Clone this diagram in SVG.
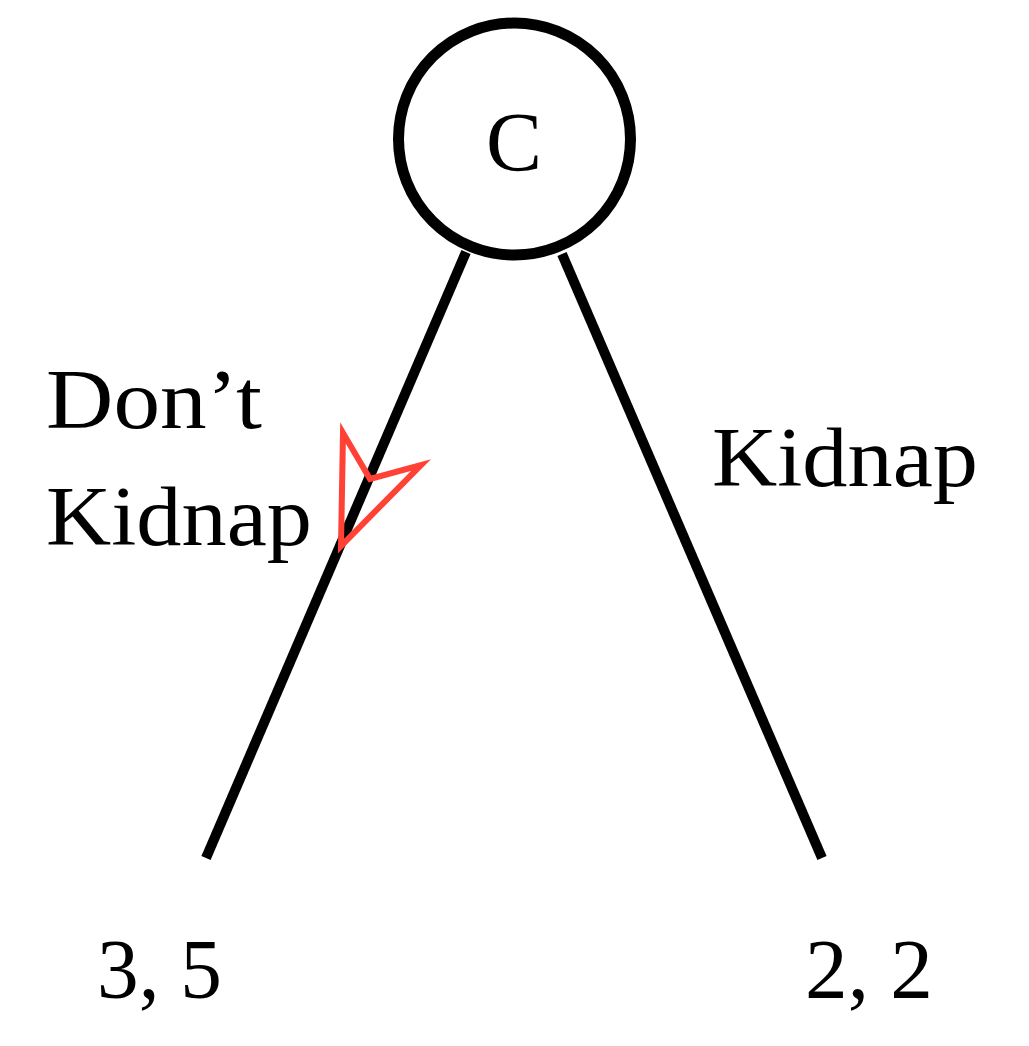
<svg xmlns="http://www.w3.org/2000/svg" width="1029" height="1046" viewBox="0 0 1029 1046">
<style>
.t{font-family:"Liberation Serif","Times New Roman",serif;font-size:84px;fill:#000}
.e{stroke:#000;stroke-width:10;fill:none}
</style>
<rect width="1029" height="1046" fill="#fff"/>
<g id="connectors">
<line class="e" x1="466" y1="252" x2="206" y2="858"/>
<line class="e" x1="562" y1="254" x2="822" y2="858"/>
<polygon points="343,433 370,479 421,465 341,546" fill="none" stroke="#ff4136" stroke-width="6" stroke-linejoin="miter"/>
</g>
<g id="node-C">
<circle cx="514.5" cy="139" r="116" fill="#fff" stroke="#000" stroke-width="11"/>
<text class="t" x="514" y="171" text-anchor="middle">C</text>
</g>
<g id="label-left">
<text class="t" x="46" y="428" textLength="216" lengthAdjust="spacingAndGlyphs">Don’t</text>
<text class="t" x="46" y="545" textLength="266" lengthAdjust="spacingAndGlyphs">Kidnap</text>
</g>
<g id="label-right">
<text class="t" x="712" y="486" textLength="266" lengthAdjust="spacingAndGlyphs">Kidnap</text>
</g>
<g id="leaf-left">
<text class="t" x="97" y="998" textLength="125" lengthAdjust="spacingAndGlyphs">3, 5</text>
</g>
<g id="leaf-right">
<text class="t" x="805" y="998" textLength="128" lengthAdjust="spacingAndGlyphs">2, 2</text>
</g>
</svg>
